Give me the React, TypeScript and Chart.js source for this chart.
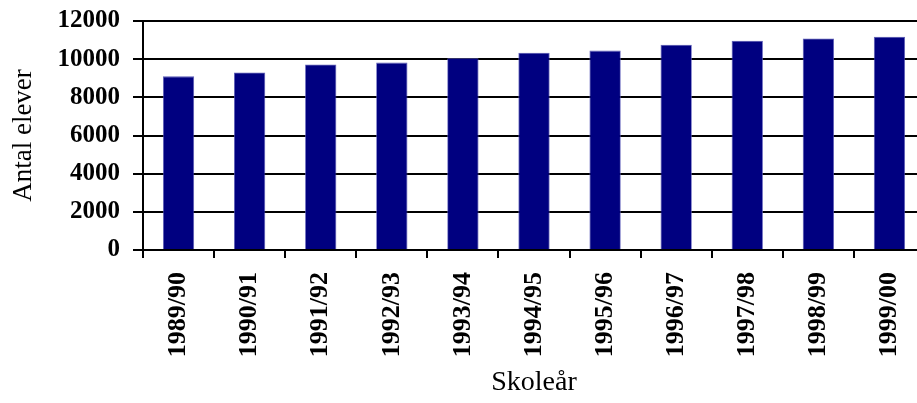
import React, { useEffect, useRef } from "react";
import { Chart, registerables } from "chart.js";

Chart.register(...registerables);

const categories = ["1989/90", "1990/91", "1991/92", "1992/93", "1993/94", "1994/95", "1995/96", "1996/97", "1997/98", "1998/99", "1999/00"];
const elever = [9100, 9300, 9720, 9820, 10050, 10340, 10450, 10760, 10970, 11080, 11180];
const yTitle = "Antal elever";
const xTitle = "Skoleår";

export default function App() {
  const ref = useRef<HTMLCanvasElement>(null);
  useEffect(() => {
    const ctx = ref.current!;
    const chart = new Chart(ctx, {
      type: "bar",
      data: {
        labels: categories,
        datasets: [
          {
            data: elever,
            backgroundColor: "#000080",
            borderColor: "#5a5ab8",
            borderWidth: 0.8,
            categoryPercentage: 1,
            barPercentage: 0.44,
          },
        ],
      },
      options: {
        animation: false,
        responsive: false,
        devicePixelRatio: 1,
        layout: { padding: { top: 0, right: 25, left: 0, bottom: 0 } },
        plugins: { legend: { display: false }, tooltip: { enabled: false } },
        scales: {
          y: {
            min: 0,
            max: 12000,
            ticks: {
              stepSize: 2000,
              color: "#000",
              padding: 13,
              callback: (v: any) => String(v),
              font: { family: "Liberation Serif", weight: "bold", size: 25 },
            },
            grid: { color: "#000", lineWidth: 2, tickLength: 10 },
            border: { color: "#000", width: 2 },
            title: {
              display: true,
              text: yTitle,
              color: "#000",
              font: { family: "Liberation Serif", size: 27 },
              padding: { top: 8, bottom: 0 },
            },
            afterFit: (s: any) => {
              s.width = 143;
              s.paddingTop = 21;
              s.paddingBottom = 0;
            },
          },
          x: {
            ticks: {
              color: "#000",
              maxRotation: 90,
              minRotation: 90,
              padding: 14,
              font: { family: "Liberation Serif", weight: "bold", size: 26 },
            },
            grid: { drawOnChartArea: false, drawTicks: true, tickLength: 8, color: "#000", lineWidth: 2, offset: true },
            border: { color: "#000", width: 2 },
            title: {
              display: true,
              text: xTitle,
              color: "#000",
              font: { family: "Liberation Serif", size: 28 },
              padding: { top: 0, bottom: 4 },
            },
            afterFit: (s: any) => {
              s.height = 153;
            },
          },
        },
      },
    });
    return () => chart.destroy();
  }, []);
  return (
    <div style={{ position: "fixed", left: 0, top: 0, width: 917, height: 403, overflow: "hidden", background: "#fff" }}>
      <canvas ref={ref} width={950} height={403} style={{ width: 950, height: 403, display: "block" }} />
    </div>
  );
}
